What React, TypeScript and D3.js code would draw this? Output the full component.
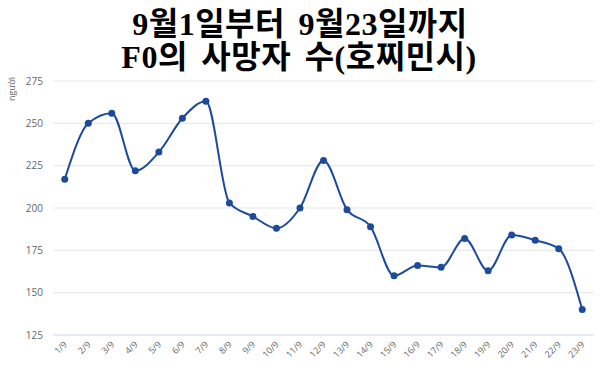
import React from "react";
import * as d3 from "d3";

const categories = ["1/9","2/9","3/9","4/9","5/9","6/9","7/9","8/9","9/9","10/9","11/9","12/9","13/9","14/9","15/9","16/9","17/9","18/9","19/9","20/9","21/9","22/9","23/9"];
const deaths = [217,250,256,222,233,253,263,203,195,188,200,228,199,189,160,166,165,182,163,184,181,176,140];
const yTicks = [125,150,175,200,225,250,275];
const titleLines = ["9월1일부터 9월23일까지", "F0의 사망자 수(호찌민시)"];
const yAxisLabel = "người";

export default function App() {
  const W = 600, H = 378;
  const left = 53, right = 594, top = 81, bottom = 335;
  const x = d3.scalePoint<string>().domain(categories).range([left, right]).padding(0.5);
  const y = d3.scaleLinear().domain([125, 275]).range([bottom, top]);
  const line = d3.line<number>()
    .x((_, i) => x(categories[i]) as number)
    .y((d) => y(d))
    .curve(d3.curveMonotoneX);
  const color = "#1c4b9c";
  return (
    <svg width={W} height={H} style={{ position: "absolute", left: 0, top: 0, background: "#fff" }}>
      <g fontFamily="'Liberation Serif', 'Noto Sans CJK KR', serif" fontWeight="bold" fontSize={32} textAnchor="middle" fill="#000" style={{ wordSpacing: "5px", letterSpacing: "0.5px" }}>
        <text x={300} y={35}>{titleLines[0]}</text>
        <text x={299} y={68}>{titleLines[1]}</text>
      </g>
      {yTicks.map((t) => (
        <g key={t}>
          <line x1={left} x2={right} y1={y(t)} y2={y(t)} stroke={t === 125 ? "#ccd6eb" : "#e6e6e6"} strokeWidth={1} />
          <text x={43} y={y(t) + 3.5} textAnchor="end" fontSize={10} fill="#666" fontFamily="'Open Sans', sans-serif">{t}</text>
        </g>
      ))}
      <text transform={`translate(15,89) rotate(-90)`} textAnchor="middle" fontSize={9} fill="#666" fontFamily="'Open Sans', sans-serif">{yAxisLabel}</text>
      {categories.map((c) => (
        <text key={c} transform={`translate(${(x(c) as number) + 3},${bottom + 10}) rotate(-45)`} textAnchor="end" fontSize={9} fill="#666" fontFamily="'Open Sans', sans-serif">{c}</text>
      ))}
      <path d={line(deaths) || ""} fill="none" stroke={color} strokeWidth={2} />
      {deaths.map((d, i) => (
        <circle key={i} cx={x(categories[i]) as number} cy={y(d)} r={3.5} fill={color} />
      ))}
    </svg>
  );
}
